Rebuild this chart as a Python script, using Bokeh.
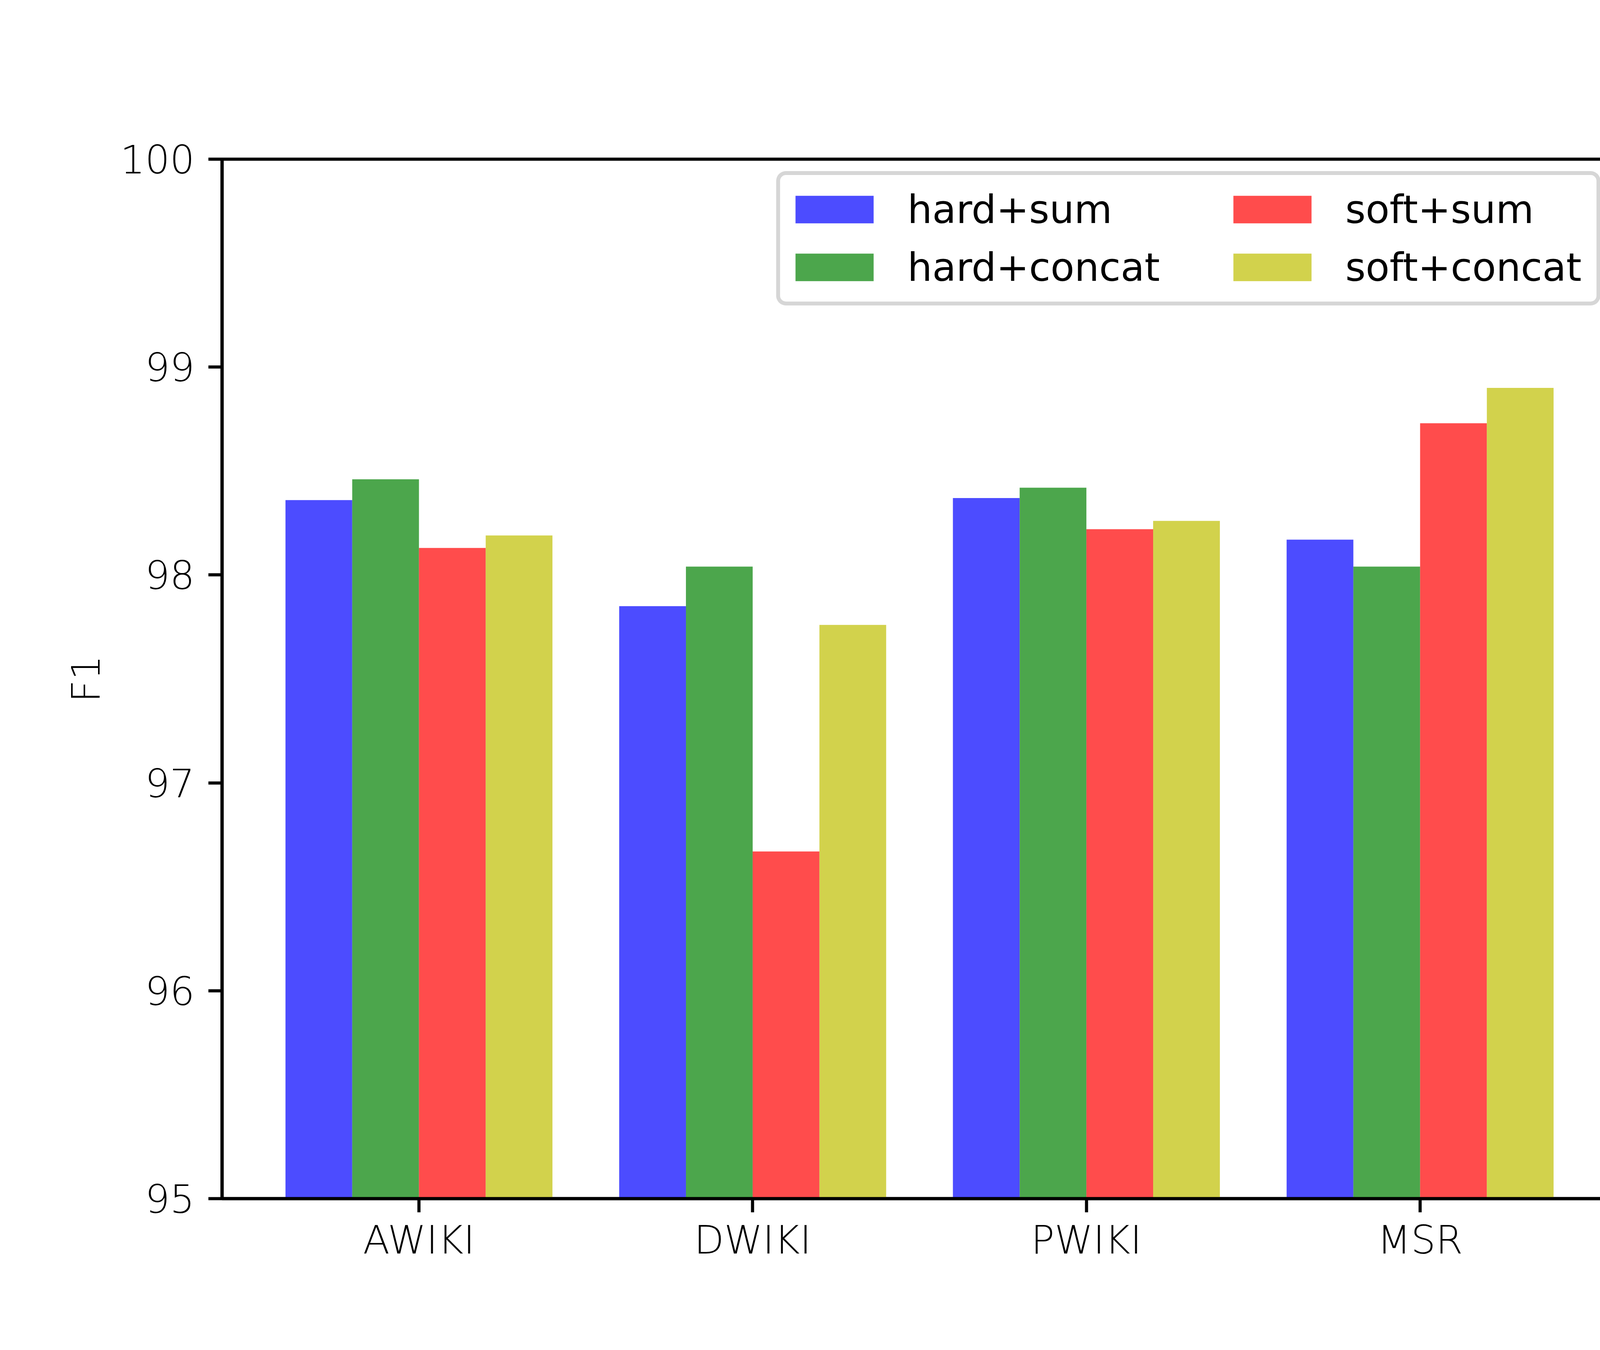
import numpy as np
from bokeh.plotting import figure
from bokeh.models import Range1d, FixedTicker, Legend, LegendItem
from bokeh.embed import file_html
from bokeh.resources import INLINE

# ---- data ----
categories = ["AWIKI", "DWIKI", "PWIKI", "MSR"]
series_names = ["hard+sum", "hard+concat", "soft+sum", "soft+concat"]
hard_sum = [98.36, 97.85, 98.37, 98.17]
hard_concat = [98.46, 98.04, 98.42, 98.04]
soft_sum = [98.13, 96.67, 98.22, 98.73]
soft_concat = [98.19, 97.76, 98.26, 98.90]
y_ticks = [95, 96, 97, 98, 99, 100]
y_label = "F1"

# ---- styling ----
FONT = "DejaVu Sans"
FS = "100px"
colors = ["#0000ff", "#008000", "#ff0000", "#bfbf00"]
alpha = 0.7
bar_w = 0.2

series = [hard_sum, hard_concat, soft_sum, soft_concat]
x = np.arange(len(categories))
offsets = (np.arange(len(series)) - (len(series) - 1) / 2) * bar_w
lo = x[0] + offsets[0] - bar_w / 2
hi = x[-1] + offsets[-1] + bar_w / 2
pad = 0.05 * (hi - lo)

W, H = 4592, 3440
BL, BR, BT, BB = 568, 453, 407, 372
FRAME_W = W - BL - BR
FRAME_H = H - BT - BB

p = figure(width=W, height=H, output_backend="svg", toolbar_location=None,
           x_range=Range1d(lo - pad, hi + pad),
           y_range=Range1d(y_ticks[0], y_ticks[-1]),
           min_border_left=BL, min_border_right=BR,
           min_border_top=BT, min_border_bottom=BB)
p.background_fill_color = "white"
p.border_fill_color = "white"
p.outline_line_color = "black"
p.outline_line_width = 8
p.xgrid.visible = False
p.ygrid.visible = False

renderers = []
for i, vals in enumerate(series):
    r = p.vbar(x=x + offsets[i], top=vals, bottom=y_ticks[0], width=bar_w,
               fill_color=colors[i], fill_alpha=alpha, line_color=None)
    renderers.append(r)

for ax in (p.xaxis[0], p.yaxis[0]):
    ax.axis_line_width = 8
    ax.axis_line_color = "black"
    ax.major_tick_line_width = 8
    ax.major_tick_line_color = "black"
    ax.major_tick_out = 35
    ax.major_tick_in = 0
    ax.minor_tick_line_color = None
    ax.major_label_standoff = 35
    ax.major_label_text_font = FONT
    ax.major_label_text_font_size = FS
    ax.major_label_text_font_style = "normal"
    ax.major_label_text_color = "black"
p.xaxis.major_label_standoff = 12

p.xaxis.ticker = FixedTicker(ticks=list(x))
p.xaxis.major_label_overrides = {int(i): c for i, c in zip(x, categories)}
p.yaxis.ticker = FixedTicker(ticks=y_ticks)
p.yaxis.axis_label = y_label
p.yaxis.axis_label_text_font = FONT
p.yaxis.axis_label_text_font_size = FS
p.yaxis.axis_label_text_font_style = "normal"
p.yaxis.axis_label_text_color = "black"
p.yaxis.axis_label_standoff = 26

LEG_PAD = 14
LEG_SP = 0
LEG_ROW = 148
GLYPH_W = 250      # Bokeh draws the patch at 80% of this
GLYPH_H = 88
STANDOFF = 62
LEG_W = 2090
LEG_BOTTOM = FRAME_H - 375   # legend bottom, measured up from frame bottom

def make_legend(items, label_width, loc, framed):
    lg = Legend(items=items, location=loc, margin=0,
                orientation="vertical",
                label_text_font=FONT, label_text_font_size=FS,
                label_text_color="black",
                glyph_width=GLYPH_W, glyph_height=GLYPH_H,
                label_standoff=STANDOFF, label_width=label_width,
                label_height=LEG_ROW,
                padding=LEG_PAD, spacing=LEG_SP)
    if framed:
        lg.border_line_color = "#cccccc"
        lg.border_line_alpha = 0.8
        lg.border_line_width = 10
        lg.background_fill_color = "white"
        lg.background_fill_alpha = 0.8
        if "border_radius" in Legend.properties():
            lg.border_radius = 25
    else:
        lg.border_line_color = None
        lg.background_fill_alpha = 0.0
    return lg

leg1_x = FRAME_W - 50 - LEG_W - 12
leg2_x = leg1_x + 1145
leg1 = make_legend([LegendItem(label=series_names[0], renderers=[renderers[0]]),
                    LegendItem(label=series_names[1], renderers=[renderers[1]])],
                   LEG_W - 2 * LEG_PAD - GLYPH_W - STANDOFF - LEG_SP,
                   (leg1_x, LEG_BOTTOM), True)
# unframed legend has no padding in Bokeh, so offset it by the padding
leg2 = make_legend([LegendItem(label=series_names[2], renderers=[renderers[2]]),
                    LegendItem(label=series_names[3], renderers=[renderers[3]])],
                   600, (leg2_x, LEG_BOTTOM + LEG_PAD + 10), False)
p.add_layout(leg1, "center")
p.add_layout(leg2, "center")

open("out.html", "w").write(file_html(p, INLINE))
